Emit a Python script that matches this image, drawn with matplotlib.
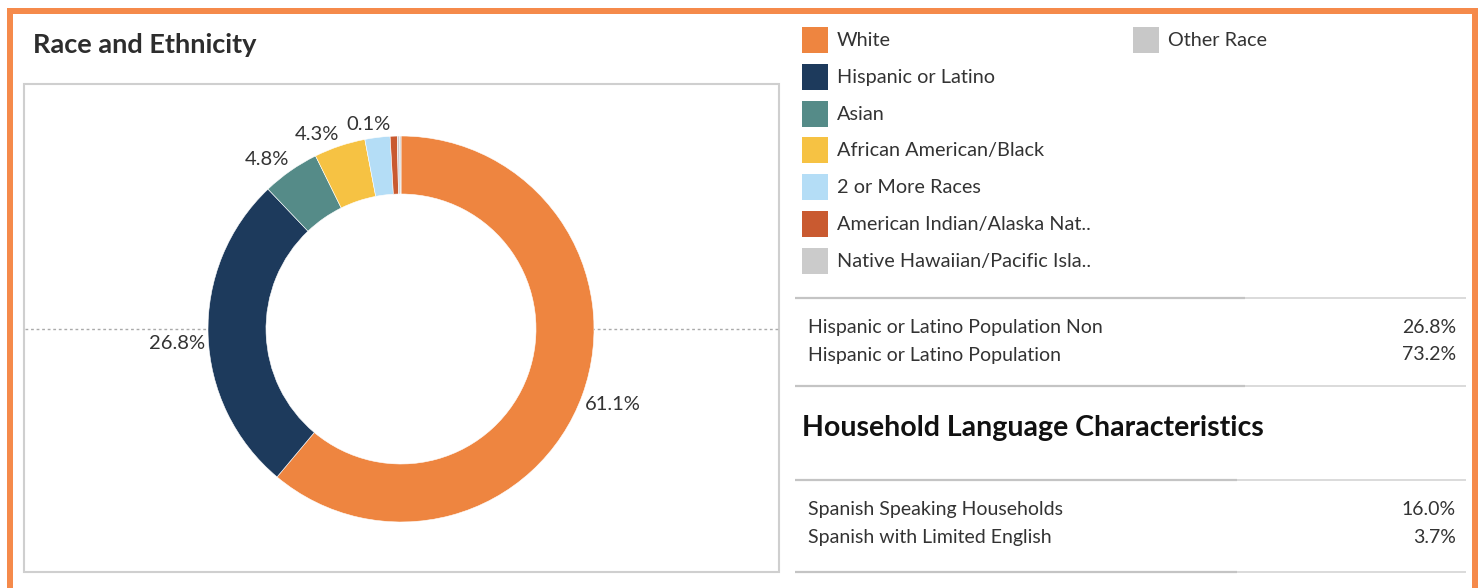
import matplotlib
matplotlib.use("Agg")
import matplotlib.pyplot as plt
from matplotlib.patches import Rectangle, Circle
import numpy as np

# ---------------- data ----------------
categories = ["White", "Hispanic or Latino", "Asian", "African American/Black",
              "2 or More Races", "American Indian/Alaska Nat..",
              "Native Hawaiian/Pacific Isla..", "Other Race"]
values = [61.1, 26.8, 4.8, 4.3, 2.1, 0.6, 0.2, 0.1]
colors = ["#EE8540", "#1D3A5C", "#558B88", "#F6C243", "#B4DDF6", "#C95A30",
          "#CBCBCB", "#C8C8C8"]
show_label = [True, True, True, True, False, False, False, True]

eth_labels = ["Hispanic or Latino Population Non", "Hispanic or Latino Population"]
eth_values = ["26.8%", "73.2%"]
lang_labels = ["Spanish Speaking Households", "Spanish with Limited English"]
lang_values = ["16.0%", "3.7%"]

title_left = "Race and Ethnicity"
title_right = "Household Language Characteristics"

# ---------------- figure ----------------
W, H = 1481, 588
fig = plt.figure(figsize=(W / 100, H / 100), dpi=100)
ax = fig.add_axes([0, 0, 1, 1])
ax.set_xlim(0, W)
ax.set_ylim(0, H)
ax.axis("off")

FONT = "Lato"
TXT = "#333333"

def Y(y):  # convert top-based pixel to axis y
    return H - y

# orange frame (top, left, right)
orange = "#F58A4B"
ax.add_patch(Rectangle((7, Y(14)), 1471, 6, color=orange, lw=0, zorder=5))
ax.add_patch(Rectangle((7, 0), 5.5, Y(8), color=orange, lw=0, zorder=5))
ax.add_patch(Rectangle((1472, 0), 6, Y(8), color=orange, lw=0, zorder=5))

# title
ax.text(33, Y(45), title_left, fontsize=19.5, fontweight="bold", family=FONT,
        color="#2d2d2d", va="center", ha="left")

# chart pane
ax.add_patch(Rectangle((24, Y(572)), 755, 488, fill=False, edgecolor="#CFCFCF",
                       lw=1.5, zorder=1))

cx, cy, R, r_in = 401, Y(329), 193, 135
ax.plot([25, 778], [cy, cy], color="#AAAAAA", lw=1.0, ls=(0, (2, 2)), zorder=1)

wedges, _ = ax.pie(values, colors=colors, startangle=90, counterclock=False,
                   radius=R, center=(cx, cy), frame=True,
                   wedgeprops=dict(width=R - r_in, edgecolor="white", linewidth=0.4))
for w in wedges:
    w.set_zorder(3)
ax.add_patch(Circle((cx, cy), r_in, color="white", zorder=2))
ax.set_xlim(0, W)
ax.set_ylim(0, H)
ax.set_aspect("auto")
ax.axis("off")

for w, v, show in zip(wedges, values, show_label):
    if not show:
        continue
    th = np.deg2rad((w.theta1 + w.theta2) / 2)
    x = cx + (R + 3) * np.cos(th)
    y = cy + (R + 3) * np.sin(th)
    ha = "left" if np.cos(th) > 0.001 else "right"
    va = "bottom" if np.sin(th) > 0 else "top"
    if ha == "right" and np.cos(th) > -0.01:
        x -= 10
    ax.text(x, y, f"{v:.1f}%", fontsize=14.5, family=FONT, color=TXT,
            ha=ha, va=va, zorder=4)

# legend (manual)
row_h = 36.8
for i, (cat, col) in enumerate(zip(categories, colors)):
    colm, row = divmod(i, 7)
    x0 = 802 + colm * 331
    yc = 40 + row * row_h
    ax.add_patch(Rectangle((x0, Y(yc + 13)), 26, 26, color=col, lw=0, zorder=3))
    ax.text(x0 + 35, Y(yc + 0.5), cat, fontsize=14.3, family=FONT, color=TXT,
            va="center", ha="left")

# separator lines
def sep(y, xmid=1245):
    ax.plot([795, xmid], [Y(y), Y(y)], color="#C4C4C4", lw=1.6, zorder=2,
            solid_capstyle="butt")
    ax.plot([xmid, 1466], [Y(y), Y(y)], color="#DADADA", lw=1.4, zorder=2,
            solid_capstyle="butt")

sep(298)
sep(386)
sep(480, 1237)
sep(572, 1237)

for i, (lab, val) in enumerate(zip(eth_labels, eth_values)):
    yy = 327.5 + i * 27.5
    ax.text(808, Y(yy), lab, fontsize=14, family=FONT, color=TXT, va="center", ha="left")
    ax.text(1456, Y(yy), val, fontsize=14, family=FONT, color=TXT, va="center", ha="right")

ax.text(802, Y(428), title_right, fontsize=20.5, fontweight="bold", family=FONT,
        color="#111111", va="center", ha="left")

for i, (lab, val) in enumerate(zip(lang_labels, lang_values)):
    yy = 509.5 + i * 28
    ax.text(808, Y(yy), lab, fontsize=14, family=FONT, color=TXT, va="center", ha="left")
    ax.text(1456, Y(yy), val, fontsize=14, family=FONT, color=TXT, va="center", ha="right")

fig.savefig("out.png", dpi=100, facecolor="white")
